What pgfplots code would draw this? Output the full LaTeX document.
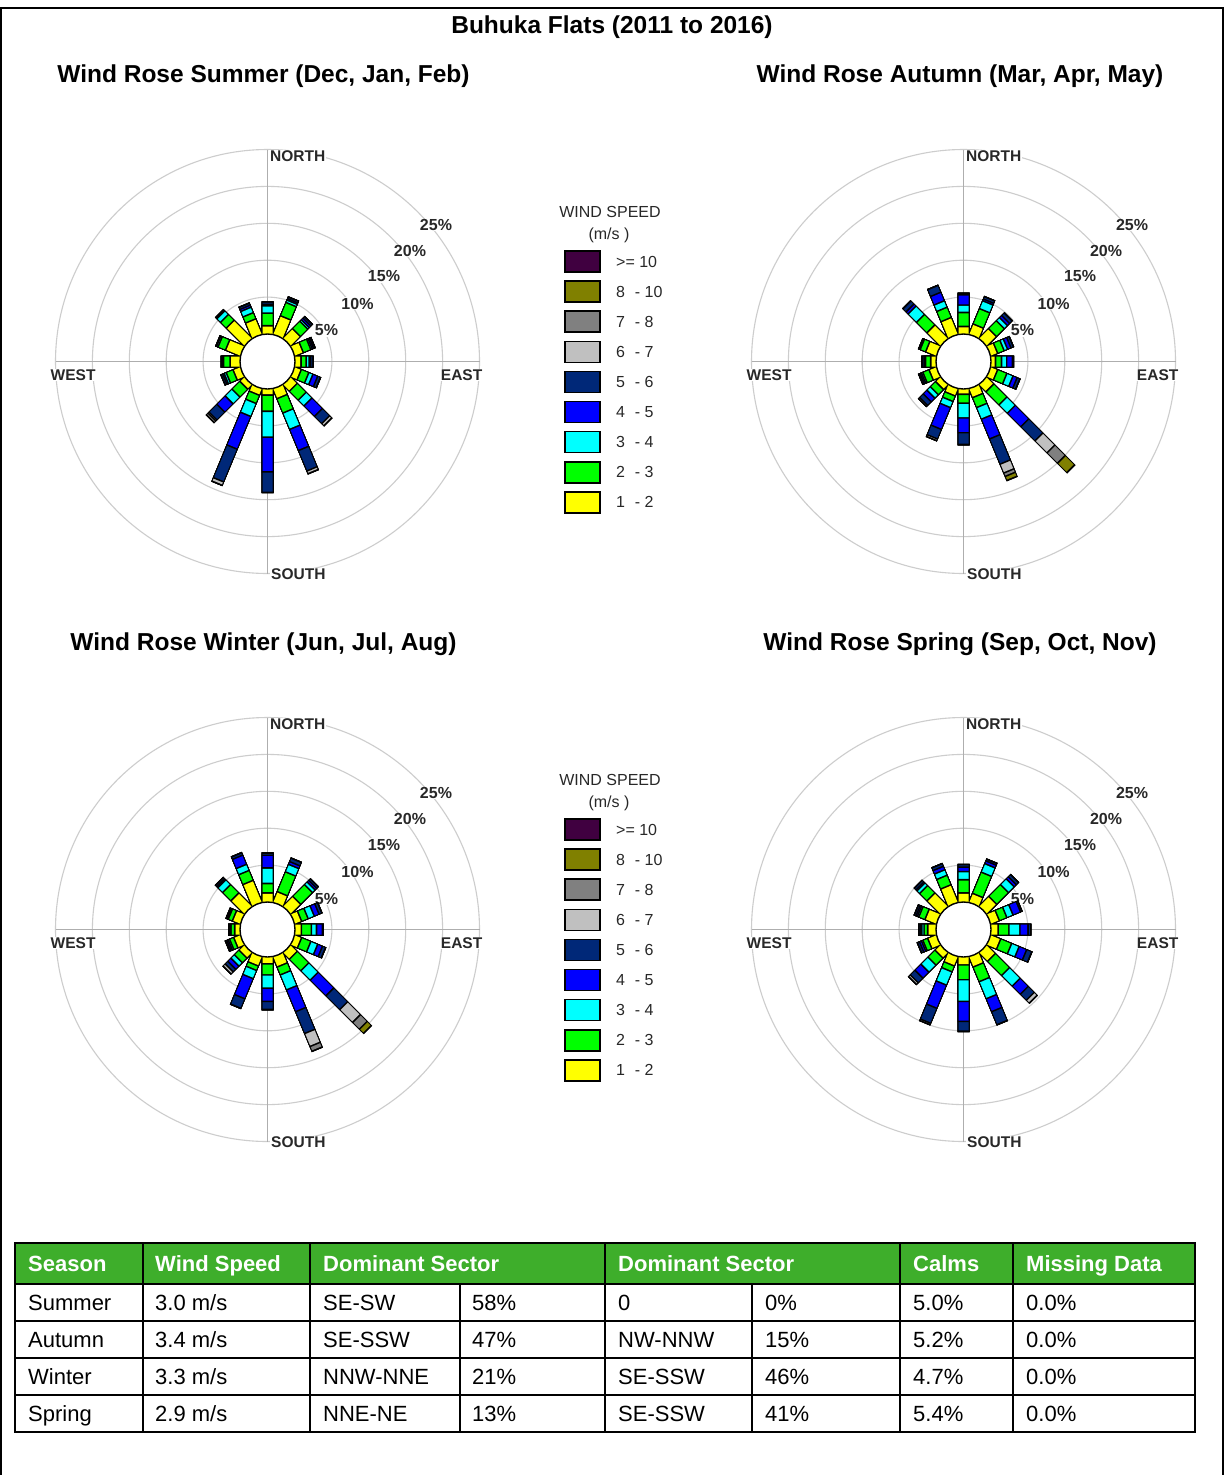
\documentclass[border=0pt]{standalone}
\usepackage{pgfplots}
\pgfplotsset{compat=1.18}
\usepackage{pgfplotstable}
\usepackage{fontspec}
\setmainfont{Liberation Sans}
\setsansfont{Liberation Sans}

\definecolor{ws1}{RGB}{255,255,0}
\definecolor{ws2}{RGB}{0,255,0}
\definecolor{ws3}{RGB}{0,255,255}
\definecolor{ws4}{RGB}{0,0,255}
\definecolor{ws5}{RGB}{0,40,120}
\definecolor{ws6}{RGB}{192,192,192}
\definecolor{ws7}{RGB}{128,128,128}
\definecolor{ws8}{RGB}{128,128,0}
\definecolor{ws9}{RGB}{64,0,64}
\definecolor{hdr}{RGB}{62,174,43}
\definecolor{ringc}{RGB}{205,205,205}
\definecolor{txt}{RGB}{40,40,40}

% compass direction a, s=0: start row (centre), s=1: bar row with cumulative
% percentages for 1-2, 2-3, 3-4, 4-5, 5-6, 6-7, 7-8, 8-10, >=10 m/s
\pgfplotstableread{
a s c1 c2 c3 c4 c5 c6 c7 c8 c9
0 0 0 0 0 0 0 0 0 0 0
0 1 1.1 2.8 3.8 4.0 4.3 4.3 4.3 4.3 4.3
22.5 0 0 0 0 0 0 0 0 0 0
22.5 1 2.65 4.6 4.95 5.15 5.4 5.4 5.4 5.4 5.4
45 0 0 0 0 0 0 0 0 0 0
45 1 1.8 3.2 3.5 3.8 4.1 4.1 4.1 4.1 4.1
67.5 0 0 0 0 0 0 0 0 0 0
67.5 1 1.2 2.3 2.5 2.7 2.9 2.9 2.9 2.9 2.9
90 0 0 0 0 0 0 0 0 0 0
90 1 0.8 1.5 1.9 2.1 2.4 2.4 2.4 2.4 2.4
112.5 0 0 0 0 0 0 0 0 0 0
112.5 1 0.9 2.0 2.6 3.3 3.7 3.7 3.7 3.7 3.7
135 0 0 0 0 0 0 0 0 0 0
135 1 1.2 2.9 4.0 6.0 7.4 7.8 7.8 7.8 7.8
157.5 0 0 0 0 0 0 0 0 0 0
157.5 1 1.4 3.5 5.9 9.0 12.0 12.4 12.4 12.4 12.4
180 0 0 0 0 0 0 0 0 0 0
180 1 0.8 3.0 6.5 11.2 14.0 14.0 14.0 14.0 14.0
202.5 0 0 0 0 0 0 0 0 0 0
202.5 1 0.9 2.1 4.0 8.8 13.6 14.1 14.1 14.1 14.1
225 0 0 0 0 0 0 0 0 0 0
225 1 0.8 2.3 3.6 5.2 6.7 6.9 7.2 7.2 7.2
247.5 0 0 0 0 0 0 0 0 0 0
247.5 1 1.0 2.0 2.3 2.5 2.75 2.75 2.75 2.75 2.75
270 0 0 0 0 0 0 0 0 0 0
270 1 1.3 2.2 2.3 2.4 2.5 2.5 2.5 2.5 2.5
292.5 0 0 0 0 0 0 0 0 0 0
292.5 1 2.1 3.2 3.4 3.45 3.5 3.5 3.5 3.5 3.5
315 0 0 0 0 0 0 0 0 0 0
315 1 3.4 4.5 5.2 5.3 5.4 5.4 5.4 5.4 5.4
337.5 0 0 0 0 0 0 0 0 0 0
337.5 1 2.2 3.1 3.9 4.2 4.5 4.5 4.5 4.5 4.5
}\summer

\pgfplotstableread{
a s c1 c2 c3 c4 c5 c6 c7 c8 c9
0 0 0 0 0 0 0 0 0 0 0
0 1 1.0 2.9 3.9 5.3 5.5 5.5 5.5 5.5 5.5
22.5 0 0 0 0 0 0 0 0 0 0
22.5 1 1.45 3.7 4.85 5.1 5.45 5.45 5.45 5.45 5.45
45 0 0 0 0 0 0 0 0 0 0
45 1 1.8 3.3 3.9 4.3 4.8 4.8 4.8 4.8 4.8
67.5 0 0 0 0 0 0 0 0 0 0
67.5 1 0.95 1.9 2.4 2.9 3.25 3.25 3.25 3.25 3.25
90 0 0 0 0 0 0 0 0 0 0
90 1 0.6 1.4 2.1 2.9 3.0 3.0 3.0 3.0 3.0
112.5 0 0 0 0 0 0 0 0 0 0
112.5 1 0.95 2.3 3.2 3.8 4.2 4.2 4.2 4.2 4.2
135 0 0 0 0 0 0 0 0 0 0
135 1 1.3 3.8 5.4 8.0 10.7 13.0 15.0 16.8 16.8
157.5 0 0 0 0 0 0 0 0 0 0
157.5 1 1.25 2.7 4.4 7.3 11.0 12.3 12.8 13.4 13.4
180 0 0 0 0 0 0 0 0 0 0
180 1 0.7 1.9 3.9 5.9 7.5 7.5 7.5 7.5 7.5
202.5 0 0 0 0 0 0 0 0 0 0
202.5 1 1.0 1.8 2.7 5.9 7.3 7.55 7.55 7.55 7.55
225 0 0 0 0 0 0 0 0 0 0
225 1 0.85 1.85 2.5 3.2 3.9 4.1 4.1 4.1 4.1
247.5 0 0 0 0 0 0 0 0 0 0
247.5 1 1.0 1.9 2.1 2.3 2.5 2.5 2.5 2.5 2.5
270 0 0 0 0 0 0 0 0 0 0
270 1 0.7 1.4 1.5 1.6 1.85 1.85 1.85 1.85 1.85
292.5 0 0 0 0 0 0 0 0 0 0
292.5 1 1.5 2.3 2.4 2.45 2.5 2.5 2.5 2.5 2.5
315 0 0 0 0 0 0 0 0 0 0
315 1 2.5 4.5 6.1 6.5 7.1 7.1 7.1 7.1 7.1
337.5 0 0 0 0 0 0 0 0 0 0
337.5 1 2.4 3.9 4.85 6.1 7.1 7.1 7.1 7.1 7.1
}\autumn

\pgfplotstableread{
a s c1 c2 c3 c4 c5 c6 c7 c8 c9
0 0 0 0 0 0 0 0 0 0 0
0 1 1.2 2.5 4.6 6.3 6.6 6.6 6.6 6.6 6.6
22.5 0 0 0 0 0 0 0 0 0 0
22.5 1 1.5 4.4 5.5 5.9 6.4 6.4 6.4 6.4 6.4
45 0 0 0 0 0 0 0 0 0 0
45 1 1.85 4.1 4.6 4.9 5.2 5.2 5.2 5.2 5.2
67.5 0 0 0 0 0 0 0 0 0 0
67.5 1 0.95 1.9 2.8 3.5 3.9 3.9 3.9 3.9 3.9
90 0 0 0 0 0 0 0 0 0 0
90 1 0.85 2.2 2.9 3.7 3.8 3.8 3.8 3.8 3.8
112.5 0 0 0 0 0 0 0 0 0 0
112.5 1 0.95 2.3 3.3 4.0 4.45 4.45 4.45 4.45 4.45
135 0 0 0 0 0 0 0 0 0 0
135 1 1.2 3.4 5.2 8.2 10.85 13.3 14.6 15.4 15.4
157.5 0 0 0 0 0 0 0 0 0 0
157.5 1 1.45 2.6 4.8 8.0 11.2 13.1 13.8 13.8 13.8
180 0 0 0 0 0 0 0 0 0 0
180 1 0.9 2.4 4.2 6.0 7.1 7.1 7.1 7.1 7.1
202.5 0 0 0 0 0 0 0 0 0 0
202.5 1 1.3 1.95 3.15 6.1 7.5 7.5 7.5 7.5 7.5
225 0 0 0 0 0 0 0 0 0 0
225 1 0.95 1.85 2.5 3.1 3.6 4.0 4.0 4.0 4.0
247.5 0 0 0 0 0 0 0 0 0 0
247.5 1 0.9 1.5 1.7 1.9 2.1 2.1 2.1 2.1 2.1
270 0 0 0 0 0 0 0 0 0 0
270 1 0.7 1.2 1.3 1.4 1.5 1.5 1.5 1.5 1.5
292.5 0 0 0 0 0 0 0 0 0 0
292.5 1 1.1 1.7 1.8 1.9 2.0 2.0 2.0 2.0 2.0
315 0 0 0 0 0 0 0 0 0 0
315 1 2.5 4.1 5.0 5.2 5.45 5.45 5.45 5.45 5.45
337.5 0 0 0 0 0 0 0 0 0 0
337.5 1 3.15 4.6 5.5 6.85 7.2 7.2 7.2 7.2 7.2
}\winter

\pgfplotstableread{
a s c1 c2 c3 c4 c5 c6 c7 c8 c9
0 0 0 0 0 0 0 0 0 0 0
0 1 1.2 3.0 4.1 4.7 5.05 5.05 5.05 5.05 5.05
22.5 0 0 0 0 0 0 0 0 0 0
22.5 1 1.25 4.35 5.6 6.0 6.25 6.25 6.25 6.25 6.25
45 0 0 0 0 0 0 0 0 0 0
45 1 1.85 4.1 5.2 5.6 6.0 6.0 6.0 6.0 6.0
67.5 0 0 0 0 0 0 0 0 0 0
67.5 1 1.2 2.3 3.2 4.3 4.5 4.5 4.5 4.5 4.5
90 0 0 0 0 0 0 0 0 0 0
90 1 0.95 2.4 3.9 5.0 5.35 5.35 5.35 5.35 5.35
112.5 0 0 0 0 0 0 0 0 0 0
112.5 1 1.4 3.0 4.1 5.2 5.95 5.95 5.95 5.95 5.95
135 0 0 0 0 0 0 0 0 0 0
135 1 1.6 4.3 6.35 7.9 9.05 9.6 9.6 9.6 9.6
157.5 0 0 0 0 0 0 0 0 0 0
157.5 1 1.45 3.6 6.1 8.0 9.9 9.9 9.9 9.9 9.9
180 0 0 0 0 0 0 0 0 0 0
180 1 1.05 3.05 6.0 8.7 10.05 10.05 10.05 10.05 10.05
202.5 0 0 0 0 0 0 0 0 0 0
202.5 1 1.3 2.15 4.1 7.5 9.7 9.9 9.9 9.9 9.9
225 0 0 0 0 0 0 0 0 0 0
225 1 0.95 2.3 3.65 4.8 5.7 6.0 6.0 6.0 6.0
247.5 0 0 0 0 0 0 0 0 0 0
247.5 1 1.2 1.9 2.1 2.4 2.7 2.7 2.7 2.7 2.7
270 0 0 0 0 0 0 0 0 0 0
270 1 1.1 1.6 1.9 2.1 2.3 2.3 2.3 2.3 2.3
292.5 0 0 0 0 0 0 0 0 0 0
292.5 1 1.6 2.5 2.7 2.9 3.15 3.15 3.15 3.15 3.15
315 0 0 0 0 0 0 0 0 0 0
315 1 2.5 3.9 4.4 4.6 4.9 4.9 4.9 4.9 4.9
337.5 0 0 0 0 0 0 0 0 0 0
337.5 1 2.5 3.9 4.7 5.2 5.6 5.6 5.6 5.6 5.6
}\spring

% one speed class: black outline then coloured bar (calm radius = 3.73 units)
\newcommand\rosebin[3]{%
  \addplot[draw=black, line width=12pt, mark=none, line join=bevel, line cap=butt]
    table[x expr={\thisrow{s}*(\thisrow{#2}+3.85)*sin(\thisrow{a})},
          y expr={\thisrow{s}*(\thisrow{#2}+3.85)*cos(\thisrow{a})}] {#1};
  \addplot[draw=#3, line width=10pt, mark=none, line join=bevel, line cap=butt]
    table[x expr={\thisrow{s}*(\thisrow{#2}+3.63)*sin(\thisrow{a})},
          y expr={\thisrow{s}*(\thisrow{#2}+3.63)*cos(\thisrow{a})}] {#1};
}
\newcommand\allbins[1]{%
  \rosebin{#1}{c9}{ws9}\rosebin{#1}{c8}{ws8}\rosebin{#1}{c7}{ws7}%
  \rosebin{#1}{c6}{ws6}\rosebin{#1}{c5}{ws5}\rosebin{#1}{c4}{ws4}%
  \rosebin{#1}{c3}{ws3}\rosebin{#1}{c2}{ws2}\rosebin{#1}{c1}{ws1}%
}

\newcommand\lblfont{\fontsize{15.5}{18}\selectfont\bfseries}
\newcommand\pctfont{\fontsize{16}{18}\selectfont\bfseries}
\newcommand\ttlfont{\fontsize{24.5}{28}\selectfont\bfseries}
\newcommand\tabfont{\fontsize{22}{26}\selectfont}
\newcommand\legfont{\fontsize{16}{19}\selectfont}

\newcommand\roseframe[2]{%
  \foreach \r in {64.4,101.3,138.2,175.1,212} {\draw[ringc, line width=1.1pt] (#1,#2) circle[radius=\r pt];}
  \draw[ringc!85!black, line width=1.1pt] (#1-212,#2) -- (#1+212,#2);
  \draw[ringc!85!black, line width=1.1pt] (#1,#2-212) -- (#1,#2+212);
  \node[anchor=west, fill=white, inner sep=1pt, font=\lblfont, text=txt] at (#1+1.5,#2-205.5) {NORTH};
  \node[anchor=west, fill=white, inner sep=1pt, font=\lblfont, text=txt] at (#1+2.5,#2+212.5) {SOUTH};
  \node[anchor=west, fill=white, inner sep=1pt, font=\lblfont, text=txt] at (#1-218,#2+13.5) {WEST};
  \node[anchor=east, fill=white, inner sep=1pt, font=\lblfont, text=txt] at (#1+216,#2+13.5) {EAST};
  \node[fill=white, inner sep=0.5pt, font=\pctfont, text=txt] at (#1+59,#2-31) {5\%};
  \node[fill=white, inner sep=0.5pt, font=\pctfont, text=txt] at (#1+90,#2-58) {10\%};
  \node[fill=white, inner sep=0.5pt, font=\pctfont, text=txt] at (#1+116.5,#2-85) {15\%};
  \node[fill=white, inner sep=0.5pt, font=\pctfont, text=txt] at (#1+142.5,#2-110.5) {20\%};
  \node[fill=white, inner sep=0.5pt, font=\pctfont, text=txt] at (#1+168.5,#2-136.5) {25\%};
}

\newcommand\windlegend[1]{%
  \node[font=\legfont, text=txt] at (610,#1+212) {WIND SPEED};
  \node[font=\legfont, text=txt] at (609,#1+235) {(m/s )};
  \foreach \c/\t [count=\i from 0] in {ws9/{>= 10},ws8/{8\,\, - 10},ws7/{7\,\, - 8},ws6/{6\,\, - 7},ws5/{5\,\, - 6},ws4/{4\,\, - 5},ws3/{3\,\, - 4},ws2/{2\,\, - 3},ws1/{1\,\, - 2}} {
    \filldraw[fill=\c, draw=black, line width=1.6pt] (565,#1+251+30.1*\i) rectangle (600,#1+272+30.1*\i);
    \node[anchor=west, font=\legfont, text=txt, inner sep=0pt] at (616,#1+261.5+30.1*\i) {\t};
  }
}

% #1 #2 centre in picture units, #3 named coordinate, #4 table
\newcommand\roseaxis[4]{%
  \coordinate (#3) at (#1,#2);
  \begin{axis}[at={(#3)}, anchor=center, scale only axis,
    width=442.8pt, height=442.8pt, xmin=-30, xmax=30, ymin=-30, ymax=30,
    hide axis, clip=false]
    \allbins{#4}
  \end{axis}
  \draw[black, line width=1.4pt, fill=white] (#1,#2) circle[radius=27.5pt];
}

\begin{document}
\begin{tikzpicture}[x=1pt,y=-1pt]
\useasboundingbox (0,0) rectangle (1225,1475);
\fill[white] (0,0) rectangle (1225,1475);
\draw[line width=2pt] (1,1480) -- (1,8) -- (1222.5,8) -- (1222.5,1480);

\node[anchor=base, font=\ttlfont] at (612,33) {Buhuka Flats (2011 to 2016)};
\node[anchor=base, font=\ttlfont] at (263.5,82) {Wind Rose Summer (Dec, Jan, Feb)};
\node[anchor=base, font=\ttlfont] at (960,82) {Wind Rose Autumn (Mar, Apr, May)};
\node[anchor=base, font=\ttlfont] at (263.5,650) {Wind Rose Winter (Jun, Jul, Aug)};
\node[anchor=base, font=\ttlfont] at (960,650) {Wind Rose Spring (Sep, Oct, Nov)};

\roseframe{267.5}{361.5}
\roseframe{963.5}{361.5}
\roseframe{267.5}{929.5}
\roseframe{963.5}{929.5}

\roseaxis{267.5}{361.5}{cSu}{\summer}
\roseaxis{963.5}{361.5}{cAu}{\autumn}
\roseaxis{267.5}{929.5}{cWi}{\winter}
\roseaxis{963.5}{929.5}{cSp}{\spring}

\windlegend{0}
\windlegend{568}

% table
\fill[hdr] (15,1243) rectangle (1195,1284);
\foreach \y in {1284,1321,1358,1395} {\draw[line width=2pt] (15,\y) -- (1195,\y);}
\foreach \x in {143,310,605,900,1013} {\draw[line width=2pt] (\x,1243) -- (\x,1432);}
\foreach \x in {460,752} {\draw[line width=2pt] (\x,1284) -- (\x,1432);}
\draw[line width=2pt] (15,1243) rectangle (1195,1432);

\begin{scope}[every node/.style={anchor=base west, inner sep=0pt, font=\tabfont}]
\node[text=white, font=\tabfont\bfseries] at (28,1271.5) {Season};
\node[text=white, font=\tabfont\bfseries] at (155,1271.5) {Wind Speed};
\node[text=white, font=\tabfont\bfseries] at (323,1271.5) {Dominant Sector};
\node[text=white, font=\tabfont\bfseries] at (618,1271.5) {Dominant Sector};
\node[text=white, font=\tabfont\bfseries] at (913,1271.5) {Calms};
\node[text=white, font=\tabfont\bfseries] at (1026,1271.5) {Missing Data};
\foreach \yb/\s/\w/\da/\pa/\db/\pb/\cl [count=\i] in {
  1310.5/Summer/3.0 m\slash s/SE-SW/58\%/0/0\%/5.0\%,
  1347.5/Autumn/3.4 m\slash s/SE-SSW/47\%/NW-NNW/15\%/5.2\%,
  1384.5/Winter/3.3 m\slash s/NNW-NNE/21\%/SE-SSW/46\%/4.7\%,
  1421.5/Spring/2.9 m\slash s/NNE-NE/13\%/SE-SSW/41\%/5.4\%} {
  \node at (28,\yb) {\s};
  \node at (155,\yb) {\w};
  \node at (323,\yb) {\da};
  \node at (472,\yb) {\pa};
  \node at (618,\yb) {\db};
  \node at (765,\yb) {\pb};
  \node at (913,\yb) {\cl};
  \node at (1026,\yb) {0.0\%};
}
\end{scope}
\end{tikzpicture}
\end{document}
